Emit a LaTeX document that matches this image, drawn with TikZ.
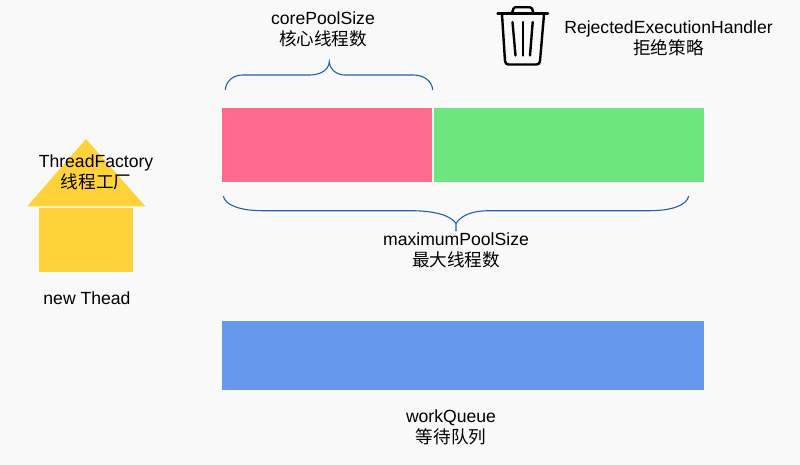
\documentclass[tikz,border=0pt]{standalone}
\usepackage{fontspec}
\setmainfont{Liberation Sans}
\newfontfamily\cjk{Noto Sans CJK SC}
\usetikzlibrary{positioning}
\definecolor{pagebg}{HTML}{F9F9F9}
\definecolor{poolpink}{HTML}{FF6B8D}
\definecolor{poolgreen}{HTML}{6EE67F}
\definecolor{queueblue}{HTML}{6699EE}
\definecolor{houseyellow}{HTML}{FFD23A}
\definecolor{bracblue}{HTML}{1F5FAF}
\tikzset{
	bar_n/.style = {rectangle, inner sep=0pt, outer sep=0pt, minimum height=74pt},
	label_n/.style = {align=center, inner sep=0pt, text=black,
		font=\fontsize{17.6}{21}\selectfont},
	brac_l/.style = {bracblue, line width=1.1pt},
	bin_l/.style = {black, line width=2.4pt, line cap=round, line join=round}
}
\begin{document}
\begin{tikzpicture}[x=1pt,y=-1pt]
	\fill[pagebg] (0,0) rectangle (800,465);
	\useasboundingbox (0,0) rectangle (800,465);
	% pool bars
	\node [bar_n, fill=poolpink, minimum width=210pt] (core) at (327,145) {};
	\node [bar_n, fill=poolgreen, minimum width=270pt, right=2pt of core] (extra) {};
	\node [bar_n, fill=queueblue, minimum width=482pt, minimum height=69pt] (queue) at (463,355.5) {};
	% house
	\node [rectangle, inner sep=0pt, fill=houseyellow, minimum width=94pt, minimum height=64pt] (house) at (86.3,239.7) {};
	\fill[houseyellow] (86,139) -- (145.3,206.3) -- (27.3,206.3) -- cycle;
	% braces
	\draw[brac_l] (225.3,90) .. controls (226,81) and (233,75) .. (243,75) -- (310,75)
		.. controls (320,75) and (329,70) .. (329.3,61.7)
		.. controls (330,70) and (337,75) .. (345,75) -- (413,75)
		.. controls (424,75) and (432,81) .. (432.7,90);
	\draw[brac_l] (223.3,196) .. controls (225,205) and (240,210.7) .. (262,210.7) -- (410,210.7)
		.. controls (434,210.7) and (450,215) .. (456,223.3) -- (456,231);
	\draw[brac_l] (456,223.3) .. controls (462,215) and (472,210.7) .. (490,210.7) -- (650,210.7)
		.. controls (672,210.7) and (687,205) .. (688.7,196);
	% bin
	\draw[bin_l] (497.5,13.7) -- (548,13.7);
	\draw[bin_l] (512,13) -- (513.5,8.5) .. controls (514,7.5) .. (515,7.3) -- (530,7.3)
		.. controls (531,7.5) .. (532,8.5) -- (533.5,13);
	\draw[bin_l] (502,14.5) -- (505,61) .. controls (505.2,63.5) and (506.5,64.5) .. (508.5,64.5)
		-- (536.5,64.5) .. controls (538.5,64.5) and (539.8,63.5) .. (540,61) -- (544,14.5);
	\foreach \xa/\xb in {512.5/515.5, 522.7/522.7, 532.7/530}
		\draw[bin_l] (\xa,22) -- (\xb,55.5);
	% labels
	\node [label_n] (coreLabel) at (323,29.5) {corePoolSize\\{\cjk 核心线程数}};
	\node [label_n] (rejectLabel) at (668.5,38) {RejectedExecutionHandler\\{\cjk 拒绝策略}};
	\node [label_n] (factoryLabel) at (96,172) {ThreadFactory\\{\cjk 线程工厂}};
	\node [label_n] (newLabel) at (87,298) {new Thead};
	\node [label_n] (maxLabel) at (456,250) {maximumPoolSize\\{\cjk 最大线程数}};
	\node [label_n] (queueLabel) at (451,427) {workQueue\\{\cjk 等待队列}};
\end{tikzpicture}
\end{document}
